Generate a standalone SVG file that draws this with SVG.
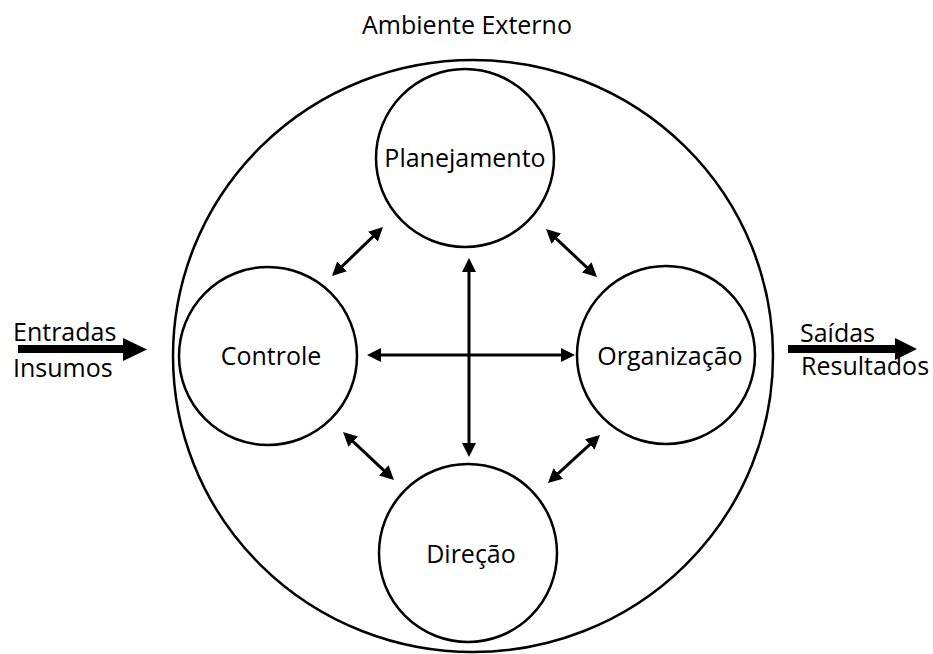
<svg xmlns="http://www.w3.org/2000/svg" width="933" height="654" viewBox="0 0 933 654">
<style>
.c{fill:none;stroke:#000;stroke-width:2.5}
.t{font-family:"Open Sans","Liberation Sans",sans-serif;font-size:25px;fill:#000}
.m{text-anchor:middle}
.a{stroke:#000;stroke-width:3;fill:none;marker-start:url(#ah);marker-end:url(#ah)}
.big{fill:#000;stroke:none}
</style>
<defs>
<marker id="ah" viewBox="0 0 14 14" markerUnits="userSpaceOnUse" markerWidth="14" markerHeight="14" refX="4" refY="7" orient="auto-start-reverse">
<path d="M0,0 L14,7 L0,14 z" fill="#000"/>
</marker>
</defs>
<rect width="933" height="654" fill="#fff"/>
<g id="ambiente">
<ellipse class="c" cx="473" cy="356" rx="300" ry="296"/>
<text class="t m" x="467" y="34">Ambiente Externo</text>
</g>
<g id="planejamento">
<circle class="c" cx="465" cy="158" r="89"/>
<text class="t m" x="465" y="167">Planejamento</text>
</g>
<g id="controle">
<circle class="c" cx="268" cy="356" r="89"/>
<text class="t m" x="271" y="365">Controle</text>
</g>
<g id="organizacao">
<circle class="c" cx="666" cy="355" r="89"/>
<text class="t m" x="670" y="365">Organização</text>
</g>
<g id="direcao">
<circle class="c" cx="468" cy="553" r="89"/>
<text class="t m" x="471" y="563">Direção</text>
</g>
<g id="entradas">
<text class="t" x="13" y="341">Entradas</text>
<text class="t" x="13" y="377">Insumos</text>
</g>
<g id="saidas">
<text class="t" x="800" y="342">Saídas</text>
<text class="t" x="801" y="375">Resultados</text>
</g>
<g id="connectors">
<line class="a" x1="377" y1="355" x2="565" y2="355"/>
<line class="a" x1="469" y1="268" x2="469" y2="447"/>
<line class="a" x1="339.2" y1="269.1" x2="375.8" y2="233.9"/>
<line class="a" x1="553.3" y1="235.9" x2="589.7" y2="270.1"/>
<line class="a" x1="350.3" y1="438.9" x2="386.7" y2="473.1"/>
<line class="a" x1="592.7" y1="441.8" x2="555.3" y2="476.2"/>
<path class="big" d="M18,345 L123,345 L123,338 L147,349.5 L123,361 L123,353 L18,353 z"/>
<path class="big" d="M788,345 L895,345 L895,338 L917,349 L895,360 L895,353 L788,353 z"/>
</g>
</svg>
